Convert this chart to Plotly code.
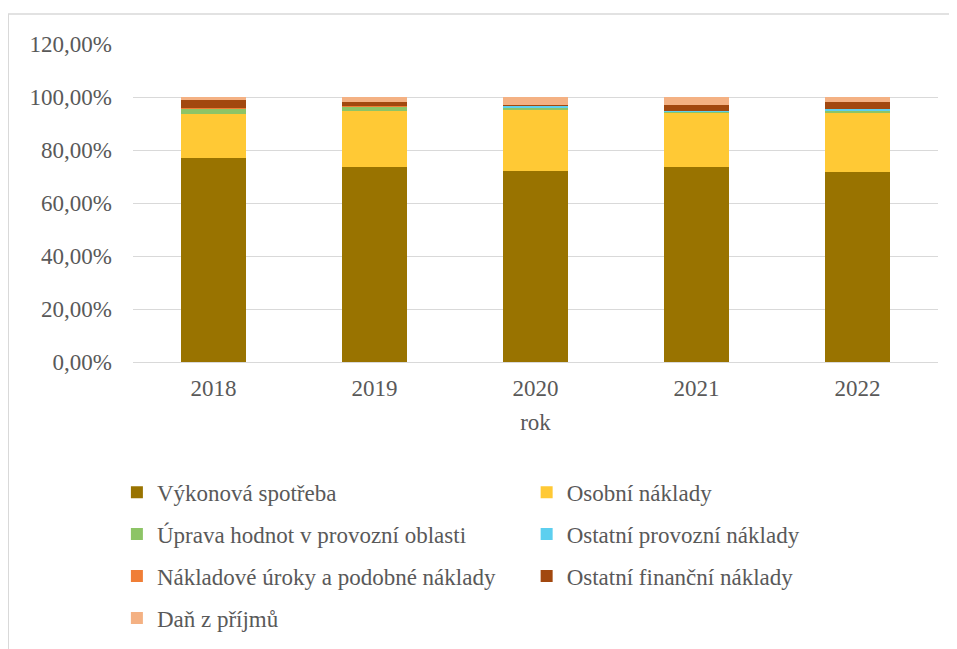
import plotly.graph_objects as go

# ── data (share of total costs, %) ───────────────────────────────────────────
years = ["2018", "2019", "2020", "2021", "2022"]

vykonova_spotreba   = [77.0, 73.6, 72.2, 73.6, 71.7]
osobni_naklady      = [16.6, 21.0, 22.8, 20.5, 22.5]
uprava_hodnot       = [2.0, 1.9, 1.0, 0.4, 0.7]
ostatni_provozni    = [0.1, 0.1, 0.9, 0.3, 0.6]
nakladove_uroky     = [0.1, 0.1, 0.0, 0.1, 0.1]
ostatni_financni    = [2.9, 1.6, 0.1, 2.0, 2.6]
dan_z_prijmu        = [1.3, 1.7, 3.0, 3.1, 1.8]

series = [
    ("Výkonová spotřeba", vykonova_spotreba, "#997300", "legend"),
    ("Osobní náklady", osobni_naklady, "#FFC935", "legend2"),
    ("Úprava hodnot v provozní oblasti", uprava_hodnot, "#8DC466", "legend"),
    ("Ostatní provozní náklady", ostatni_provozni, "#5DCFEF", "legend2"),
    ("Nákladové úroky a podobné náklady", nakladove_uroky, "#F07E36", "legend"),
    ("Ostatní finanční náklady", ostatni_financni, "#A2480F", "legend2"),
    ("Daň z příjmů", dan_z_prijmu, "#F4B183", "legend"),
]

y_ticks = [0, 20, 40, 60, 80, 100, 120]
y_labels = [f"{v},00%" for v in y_ticks]

FONT = "Liberation Serif, DejaVu Serif, serif"
GREY = "#595959"

fig = go.Figure()
for i, (name, vals, color, leg) in enumerate(series):
    fig.add_trace(go.Bar(
        x=years, y=vals, name=name,
        marker=dict(color=color, line=dict(width=0)),
        legend=leg, legendgroup=f"g{i}",
    ))

legend_common = dict(
    font=dict(family=FONT, size=23, color=GREY),
    bgcolor="rgba(0,0,0,0)",
    traceorder="grouped",
    tracegroupgap=9,
    itemwidth=30,
    xanchor="left", yanchor="top",
    y=-0.342,
)

fig.update_layout(
    barmode="stack",
    bargap=0.6,
    width=957, height=649,
    paper_bgcolor="#ffffff",
    plot_bgcolor="#ffffff",
    font=dict(family=FONT, size=22, color=GREY),
    margin=dict(l=125, r=27, t=36, b=295, autoexpand=False),
    legend=dict(x=-0.02, **legend_common),
    legend2=dict(x=0.489, **legend_common),
    showlegend=True,
)

fig.update_yaxes(
    range=[0, 120], tickvals=y_ticks, ticktext=y_labels,
    showgrid=True, gridcolor="#D9D9D9", gridwidth=1,
    zeroline=False, showline=False, ticks="", ticklen=0,
    ticklabelstandoff=20,
    tickfont=dict(family=FONT, size=23, color=GREY),
)
fig.update_xaxes(
    title=dict(text="rok", font=dict(family=FONT, size=23, color=GREY), standoff=14),
    showline=True, linecolor="#D9D9D9", linewidth=1,
    ticks="", ticklabelstandoff=5,
    tickfont=dict(family=FONT, size=23, color=GREY),
)

# outer chart-area border
fig.add_shape(
    type="rect", xref="paper", yref="paper",
    x0=-0.155, x1=1.021, y0=-0.91, y1=1.094,
    line=dict(color="#D9D9D9", width=1.5),
    fillcolor="rgba(0,0,0,0)", layer="below",
)

fig.write_html("out.html")
